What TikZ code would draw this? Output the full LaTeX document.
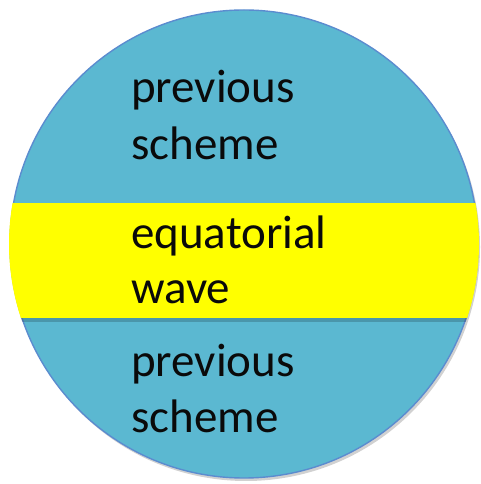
\documentclass[tikz,border=0pt]{standalone}
\usepackage{fontspec}
\setmainfont{Carlito}
\usepackage{xcolor}
\usetikzlibrary{positioning,calc}
\definecolor{globe}{HTML}{5BB8D1}
\definecolor{globeedge}{HTML}{5B8CCF}
\definecolor{band}{HTML}{FFFF00}
\definecolor{ink}{HTML}{0A0A0A}
\tikzset{
  globecirc/.style={draw=globeedge,fill=globe,line width=1.4pt},
  bandstrip/.style={fill=band,draw=none},
  shade/.style={fill=black,opacity=0.18,draw=none},
  label/.style={anchor=base west,inner sep=0pt,text=ink,
                font=\fontsize{47}{57}\selectfont}
}
\begin{document}
\begin{tikzpicture}[x=1pt,y=1pt]
  \useasboundingbox (0,0) rectangle (481,484);
  % shadow and globe
  \fill[shade] (246,237) circle (234);
  \node[globecirc,circle,minimum size=468pt,inner sep=0pt] (globe) at (244,240) {};
  % equatorial band, clipped to the globe
  \begin{scope}
    \clip (globe.center) circle (235);
    \fill[shade] (0,162) rectangle (481,167);
    \fill[bandstrip] (0,166) rectangle (481,281);
  \end{scope}

  \node[label] (prevA) at (131,381) {previous};
  \node[label] (schemeA) at (131,324) {scheme};
  \node[label] (equat) at (131,235) {equatorial};
  \node[label] (wave) at (131,180) {wave};
  \node[label] (prevB) at (131,107) {previous};
  \node[label] (schemeB) at (131,51) {scheme};
\end{tikzpicture}
\end{document}
